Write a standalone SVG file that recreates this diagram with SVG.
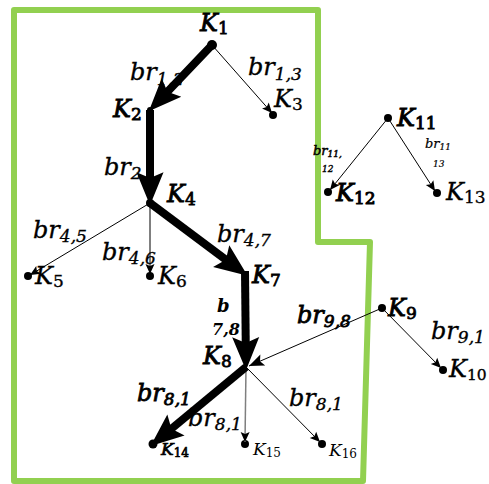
<svg xmlns="http://www.w3.org/2000/svg" width="489" height="484" viewBox="0 0 489 484">
<style>
.t{font-family:"DejaVu Serif","Liberation Serif",serif;font-style:italic;font-size:24px;fill:#000;stroke:#000;stroke-width:0.35}
.s{font-size:17px}
.ku{font-style:normal}
.b{font-weight:bold;stroke-width:0}
.hv{stroke-width:0.8}
.sm{font-size:17px}
.smsub{font-size:12px;font-style:normal}
.thick{stroke:#000;stroke-width:8;fill:none}
.thin{stroke:#000;stroke-width:1;fill:none}
.dot{fill:#000}
</style>
<defs>
<marker id="big" markerUnits="userSpaceOnUse" markerWidth="40" markerHeight="40" refX="10" refY="0" viewBox="-2 -14 34 28" orient="auto" overflow="visible">
<path d="M28,0 L0,-11.5 L5,0 L0,11.5 Z" fill="#000"/>
</marker>
<marker id="sm" markerUnits="userSpaceOnUse" markerWidth="14" markerHeight="12" refX="10" refY="0" viewBox="0 -6 12 12" orient="auto" overflow="visible">
<path d="M10,0 L0,-4.5 L2,0 L0,4.5 Z" fill="#000"/>
</marker>
<marker id="md" markerUnits="userSpaceOnUse" markerWidth="18" markerHeight="14" refX="15" refY="0" viewBox="0 -7 16 14" orient="auto" overflow="visible">
<path d="M15,0 L0,-6 L3,0 L0,6 Z" fill="#000"/>
</marker>
</defs>
<rect width="489" height="484" fill="#fff"/>
<path id="boundary" d="M14,10 L318,10 L318,242 L370,242 L363,481 L14,481 Z" fill="none" stroke="#92D050" stroke-width="6" stroke-linejoin="round"/>
<g id="edge-labels" class="t">
<text x="130" y="80">br<tspan class="s" dy="5">1,2</tspan></text>
<text x="248" y="75">br<tspan class="s" dy="5">1,3</tspan></text>
<text x="104" y="175">br<tspan class="s" dy="4">2,</tspan></text>
<text x="33" y="238">br<tspan class="s" dy="4">4,5</tspan></text>
<text x="102" y="260">br<tspan class="s" dy="4">4,6</tspan></text>
<text x="217" y="242">br<tspan class="s" dy="4">4,7</tspan></text>
<text x="217" y="312" class="b" style="font-size:18px">b</text>
<text x="212" y="335" class="b" style="font-size:16px">7,8</text>
<text x="297" y="323" class="hv">br<tspan class="s" dy="4">9,8</tspan></text>
<text x="431" y="339">br<tspan class="s" dy="4">9,1</tspan></text>
<text x="137" y="401" class="hv">br<tspan class="s" dy="4">8,1</tspan></text>
<text x="188" y="426">br<tspan class="s" dy="4">8,1</tspan></text>
<text x="289" y="406">br<tspan class="s" dy="4">8,1</tspan></text>
<text x="313" y="155" style="font-size:13px;stroke-width:0.5">br<tspan style="font-size:9px" dy="2">11,</tspan></text>
<text x="322" y="172" style="font-size:9px;stroke-width:0.4">12</text>
<text x="425" y="148" style="font-size:13px;stroke-width:0.2">br<tspan style="font-size:9px" dy="2">11</tspan></text>
<text x="433" y="167" style="font-size:9px;stroke-width:0.2">13</text>
</g>
<g id="K1"><circle class="dot" cx="212" cy="45" r="5"/><text class="t hv" x="200" y="31">K<tspan class="s ku" dy="3">1</tspan></text></g>
<g id="K2"><circle class="dot" cx="150" cy="110" r="3"/><text class="t hv" x="113" y="117">K<tspan class="s ku" dy="3">2</tspan></text></g>
<g id="K3"><circle class="dot" cx="273" cy="115" r="4"/><text class="t" x="274" y="107">K<tspan class="s ku" dy="3">3</tspan></text></g>
<g id="K4"><circle class="dot" cx="150" cy="203" r="4"/><text class="t hv" x="167" y="202">K<tspan class="s ku" dy="3">4</tspan></text></g>
<g id="K5"><circle class="dot" cx="28" cy="276" r="4"/><text class="t" x="35" y="284">K<tspan class="s ku" dy="3">5</tspan></text></g>
<g id="K6"><circle class="dot" cx="150" cy="276" r="4"/><text class="t" x="158" y="284">K<tspan class="s ku" dy="3">6</tspan></text></g>
<g id="K7"><text class="t hv" x="252" y="283">K<tspan class="s ku" dy="3">7</tspan></text></g>
<g id="K8"><text class="t hv" x="203" y="364">K<tspan class="s ku" dy="3">8</tspan></text></g>
<g id="K9"><circle class="dot" cx="382" cy="308" r="4"/><text class="t hv" x="388" y="316">K<tspan class="s ku" dy="3">9</tspan></text></g>
<g id="K10"><circle class="dot" cx="443" cy="370" r="4"/><text class="t" x="449" y="377">K<tspan class="ku" style="font-size:15.5px" dy="3">10</tspan></text></g>
<g id="K11"><circle class="dot" cx="388" cy="118" r="4"/><text class="t hv" x="397" y="126" style="stroke-width:1">K<tspan class="s ku" dy="3">11</tspan></text></g>
<g id="K12"><circle class="dot" cx="328" cy="192" r="4"/><text class="t hv" x="336" y="201" style="stroke-width:1">K<tspan class="s ku" dy="3">12</tspan></text></g>
<g id="K13"><circle class="dot" cx="437" cy="193" r="4"/><text class="t" x="446" y="200">K<tspan class="s ku" dy="3">13</tspan></text></g>
<g id="K14"><circle class="dot" cx="153" cy="444" r="4.5"/><text class="t sm" x="161" y="455" style="stroke-width:0.7">K<tspan class="smsub" dy="2">14</tspan></text></g>
<g id="K15"><circle class="dot" cx="245" cy="444" r="4"/><text class="t sm" x="253" y="455" style="stroke-width:0">K<tspan class="smsub" dy="2">15</tspan></text></g>
<g id="K16"><circle class="dot" cx="322" cy="444" r="4"/><text class="t sm" x="329" y="456" style="stroke-width:0">K<tspan class="smsub" dy="2">16</tspan></text></g>
<g id="connectors">
<line class="thin" x1="212" y1="45" x2="272" y2="113" marker-end="url(#sm)"/>
<line class="thin" x1="150" y1="203" x2="30" y2="275" marker-end="url(#sm)"/>
<line class="thin" x1="150" y1="203" x2="150" y2="274" marker-end="url(#sm)"/>
<line class="thin" x1="382" y1="308" x2="249" y2="366" marker-end="url(#md)"/>
<line class="thin" x1="382" y1="308" x2="441" y2="368" marker-end="url(#sm)"/>
<line x1="246" y1="367" x2="245" y2="442" stroke="#7f7f7f" stroke-width="1.5" marker-end="url(#sm)"/>
<line class="thin" x1="246" y1="367" x2="320" y2="442" marker-end="url(#sm)"/>
<line class="thin" x1="388" y1="118" x2="330" y2="190" marker-end="url(#sm)"/>
<line class="thin" x1="388" y1="118" x2="435" y2="191" marker-end="url(#sm)"/>
<line class="thick" x1="212" y1="45" x2="163.4" y2="96" stroke-linecap="round" marker-end="url(#big)"/>
<line class="thick" x1="150" y1="110" x2="150" y2="184" marker-end="url(#big)"/>
<line class="thick" x1="150" y1="203" x2="230.6" y2="263.2" marker-end="url(#big)"/>
<line class="thick" x1="245" y1="271" x2="245.8" y2="349" marker-end="url(#big)"/>
<line class="thick" x1="246" y1="367" x2="166.9" y2="432.5" marker-end="url(#big)"/>
</g>
</svg>
